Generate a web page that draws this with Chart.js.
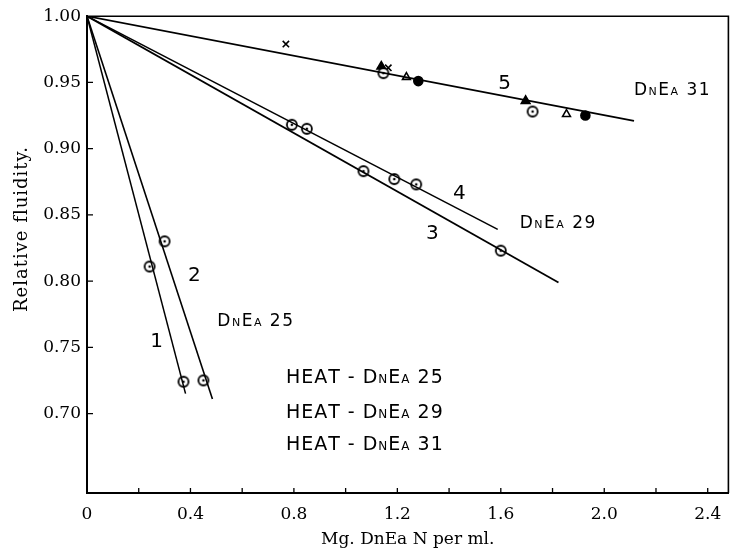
<!DOCTYPE html>
<html><head><meta charset="utf-8">
<script src="https://cdn.jsdelivr.net/npm/chart.js@4.4.0/dist/chart.umd.min.js"></script>
<style>html,body{margin:0;padding:0;background:#fff;}</style>
</head><body>
<canvas id="c" width="735" height="555"></canvas>
<script>
// ---- tick values / labels ----
const xTickValues = [0,0.2,0.4,0.6,0.8,1.0,1.2,1.4,1.6,1.8,2.0,2.2,2.4];
const xTickLabels = ["0","","0.4","","0.8","","1.2","","1.6","","2.0","","2.4"];
const yTickValues = [0.70,0.75,0.80,0.85,0.90,0.95,1.00];
const yTickLabels = ["0.70","0.75","0.80","0.85","0.90","0.95","1.00"];

// ---- fitted lines (start, end) ----
const line1X = [0, 0.381]; const line1Y = [1.00, 0.715];
const line2X = [0, 0.485]; const line2Y = [1.00, 0.711];
const line3X = [0, 1.823]; const line3Y = [1.00, 0.799];
const line4X = [0, 1.588]; const line4Y = [1.00, 0.839];
const line5X = [0, 2.115]; const line5Y = [1.00, 0.921];

// ---- measured points ----
const heat25X = [0.242, 0.300, 0.373, 0.450];
const heat25Y = [0.811, 0.830, 0.724, 0.725];
const heat29X = [0.792, 0.850, 1.069, 1.188, 1.273, 1.600];
const heat29Y = [0.918, 0.915, 0.883, 0.877, 0.873, 0.823];
const open31X = [1.146, 1.723];   const open31Y = [0.957, 0.928];
const filled31X = [1.281, 1.927]; const filled31Y = [0.951, 0.925];
const filledTri31X = [1.138, 1.696]; const filledTri31Y = [0.962, 0.936];
const openTri31X = [1.235, 1.854];   const openTri31Y = [0.954, 0.926];
const cross31X = [0.769, 1.165];     const cross31Y = [0.979, 0.961];

// ---- annotation texts ----
const lineNames = ["1","2","3","4","5"];
const groupNames = ["DnEa 25","DnEa 29","DnEa 31"];
const legendTexts = ["HEAT - DnEa 25","HEAT - DnEa 29","HEAT - DnEa 31"];
const xTitle = "Mg. DnEa N per ml.";
const yTitle = "Relative fluidity.";

// placement of annotations (data coordinates)
const lineNamePos = [[0.269,0.754],[0.415,0.804],[1.335,0.836],[1.44,0.866],[1.615,0.949]];
const groupNamePos = [[0.504,0.771],[1.673,0.845],[2.115,0.945]];
const legendPos = [[0.769,0.7285],[0.769,0.702],[0.769,0.678]];

const pts = (xs, ys) => xs.map((x, i) => ({x, y: ys[i]}));

function dotCircle() {
  const c = document.createElement('canvas'); c.width = 14; c.height = 14;
  const g = c.getContext('2d');
  g.beginPath(); g.arc(7, 7, 5, 0, 2*Math.PI); g.fillStyle = '#fff'; g.fill();
  g.lineWidth = 1.8; g.strokeStyle = '#000'; g.stroke();
  g.beginPath(); g.arc(7, 7, 1.3, 0, 2*Math.PI); g.fillStyle = '#000'; g.fill();
  return c;
}
const dotImg = dotCircle();

function lineDs(xs, ys, w) {
  return {data: pts(xs, ys), showLine: true, borderColor: '#000', borderWidth: w, pointRadius: 0, fill: false};
}
function markDs(xs, ys, style, r, fillC) {
  return {data: pts(xs, ys), showLine: false, pointStyle: style, pointRadius: r,
          pointBackgroundColor: fillC, pointBorderColor: '#000', pointBorderWidth: 1.6};
}

// hand-lettered style: lowercase letters drawn as small capitals
function drawLettered(ctx, text, x, yMid, big, small, spacing) {
  ctx.save();
  ctx.fillStyle = '#000';
  ctx.textBaseline = 'alphabetic';
  ctx.textAlign = 'left';
  try { ctx.letterSpacing = spacing + 'px'; } catch (e) {}
  let cx = x;
  const base = yMid + big * 0.36;
  for (const ch of text) {
    const isSmall = ch >= 'a' && ch <= 'z';
    ctx.font = (isSmall ? small : big) + 'px "DejaVu Sans"';
    const t = isSmall ? ch.toUpperCase() : ch;
    ctx.fillText(t, cx, base);
    cx += ctx.measureText(t).width;
  }
  ctx.restore();
}

const decor = {
  id: 'decor',
  afterDraw(chart) {
    const {ctx, chartArea: a, scales: {x, y}} = chart;
    ctx.save();
    ctx.strokeStyle = '#000';
    ctx.lineWidth = 1.6;
    ctx.beginPath();
    ctx.moveTo(a.left, a.top); ctx.lineTo(a.right, a.top); ctx.lineTo(a.right, a.bottom);
    ctx.stroke();
    ctx.lineWidth = 1.3;
    ctx.beginPath();
    xTickValues.forEach(v => { if (v > 0) { const p = x.getPixelForValue(v); ctx.moveTo(p, a.bottom); ctx.lineTo(p, a.bottom - 5); } });
    yTickValues.forEach(v => { if (v < 1) { const p = y.getPixelForValue(v); ctx.moveTo(a.left, p); ctx.lineTo(a.left + 6, p); } });
    ctx.stroke();
    ctx.fillStyle = '#000';
    ctx.font = '18px "DejaVu Serif"';
    try { ctx.letterSpacing = '1px'; } catch (e) {}
    ctx.textAlign = 'center'; ctx.textBaseline = 'middle';
    ctx.translate(22, 229); ctx.rotate(-Math.PI/2);
    ctx.fillText(yTitle, 0, 0);
    ctx.restore();
    ctx.save();
    ctx.fillStyle = '#000'; ctx.font = '20px "DejaVu Sans"';
    ctx.textAlign = 'center'; ctx.textBaseline = 'middle';
    lineNames.forEach((t, i) => ctx.fillText(t, x.getPixelForValue(lineNamePos[i][0]), y.getPixelForValue(lineNamePos[i][1])));
    ctx.restore();
    groupNames.forEach((t, i) => drawLettered(ctx, t, x.getPixelForValue(groupNamePos[i][0]), y.getPixelForValue(groupNamePos[i][1]), 17, 11, 1.5));
    legendTexts.forEach((t, i) => drawLettered(ctx, t, x.getPixelForValue(legendPos[i][0]), y.getPixelForValue(legendPos[i][1]), 19, 12, 1));
  }
};

new Chart(document.getElementById('c'), {
  type: 'scatter',
  data: {datasets: [
    lineDs(line1X, line1Y, 1.5),
    lineDs(line2X, line2Y, 1.6),
    lineDs(line3X, line3Y, 1.8),
    lineDs(line4X, line4Y, 1.5),
    lineDs(line5X, line5Y, 1.8),
    markDs(heat25X, heat25Y, dotImg, 5, '#fff'),
    markDs(heat29X, heat29Y, dotImg, 5, '#fff'),
    markDs(open31X, open31Y, dotImg, 5, '#fff'),
    markDs(filled31X, filled31Y, 'circle', 4.5, '#000'),
    markDs(filledTri31X, filledTri31Y, 'triangle', 5, '#000'),
    markDs(openTri31X, openTri31Y, 'triangle', 4.5, '#fff'),
    markDs(cross31X, cross31Y, 'crossRot', 4.5, '#000')
  ]},
  options: {
    responsive: false, animation: false, devicePixelRatio: 1,
    layout: {padding: {top: 15, right: 2, left: 0, bottom: 0}},
    plugins: {legend: {display: false}, tooltip: {enabled: false}},
    scales: {
      x: {
        type: 'linear', min: 0, max: 2.48,
        afterBuildTicks: s => { s.ticks = xTickValues.map(v => ({value: v})); },
        afterFit: s => { s.height = 62; },
        grid: {display: false, drawTicks: false},
        border: {display: true, color: '#000', width: 2},
        ticks: {color: '#000', padding: 11, maxRotation: 0, autoSkip: false,
                font: {family: 'DejaVu Serif', size: 17},
                callback: (v, i) => xTickLabels[i]},
        title: {display: true, text: xTitle, color: '#000',
                font: {family: 'DejaVu Serif', size: 17}, padding: {top: 0, bottom: 5}}
      },
      y: {
        type: 'linear', min: 0.64, max: 1.00,
        afterBuildTicks: s => { s.ticks = yTickValues.map(v => ({value: v})); },
        afterFit: s => { s.width = 87; },
        grid: {display: false, drawTicks: false},
        border: {display: true, color: '#000', width: 2},
        ticks: {color: '#000', padding: 6, autoSkip: false,
                font: {family: 'DejaVu Serif', size: 17},
                callback: (v, i) => yTickLabels[i]}
      }
    }
  },
  plugins: [decor]
});
</script>
</body></html>
